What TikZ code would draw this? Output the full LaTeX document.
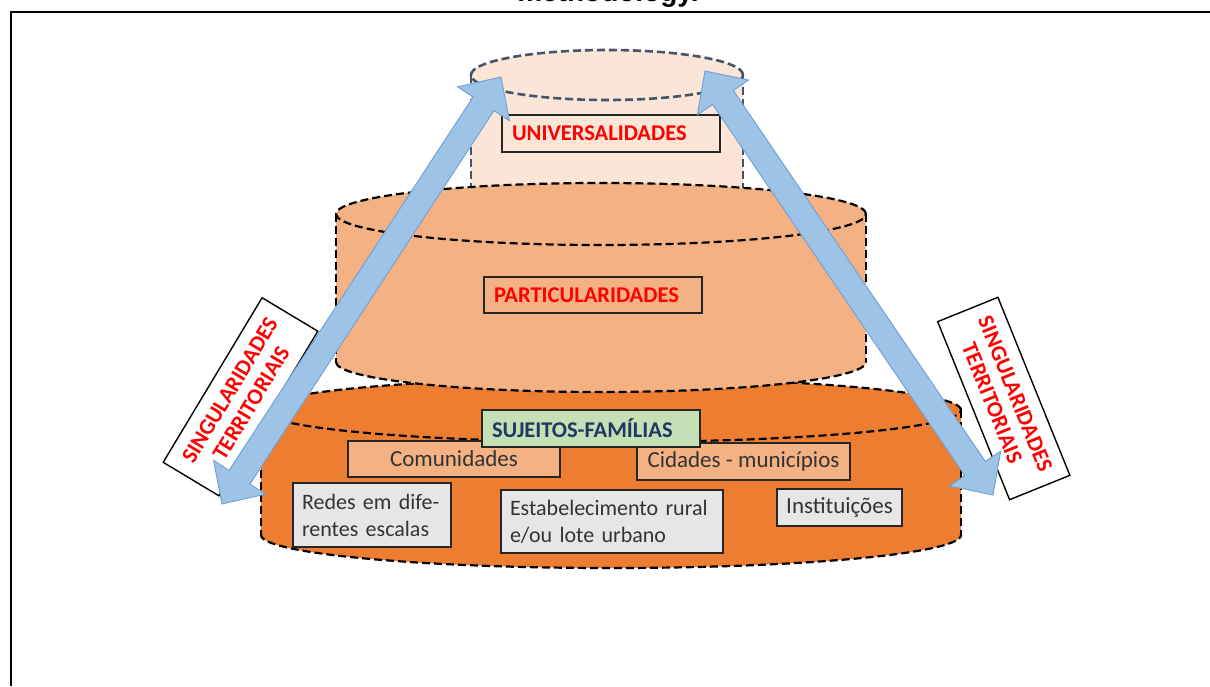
\documentclass[tikz,border=0pt]{standalone}
\usepackage{fontspec}
\setmainfont{Carlito}
\newfontfamily\titlefont{Liberation Sans}
\usetikzlibrary{calc}
\definecolor{topfill}{HTML}{FBE5D6}
\definecolor{midfill}{HTML}{F4B183}
\definecolor{botfill}{HTML}{ED7D31}
\definecolor{slate}{HTML}{44546A}
\definecolor{arrowfill}{HTML}{9DC3E6}
\definecolor{arrowline}{HTML}{6F9FD3}
\definecolor{greenfill}{HTML}{C5E0B4}
\definecolor{grayfill}{HTML}{E7E6E6}
\definecolor{navy}{HTML}{1F3864}
\definecolor{txtgray}{HTML}{333333}
\definecolor{red}{HTML}{FF0000}
\newcommand{\dblarrow}[2]{%
  \coordinate (#1h) at ($(#1)!32pt!(#2)$);
  \coordinate (#2h) at ($(#2)!32pt!(#1)$);
  \filldraw[arrowst] (#1) -- ($(#1h)!31pt!90:(#2)$) -- ($(#1h)!12.5pt!90:(#2)$)
    -- ($(#2h)!12.5pt!-90:(#1)$) -- ($(#2h)!31pt!-90:(#1)$) -- (#2)
    -- ($(#2h)!31pt!90:(#1)$) -- ($(#2h)!12.5pt!90:(#1)$)
    -- ($(#1h)!12.5pt!-90:(#2)$) -- ($(#1h)!31pt!-90:(#2)$) -- cycle;}
\begin{document}
\begin{tikzpicture}[x=1pt,y=-1pt,
  dashln/.style={line width=2.2pt, dash pattern=on 8pt off 4pt},
  blackdash/.style={dashln, draw=black},
  slatedash/.style={dashln, draw=slate, line width=2.6pt},
  arrowst/.style={fill=arrowfill, draw=arrowline, line width=0.9pt},
  lbox/.style={draw=black!85, line width=1.8pt, inner sep=0pt, minimum height=37pt},
  redlbl/.style={lbox, text=red, font=\bfseries\fontsize{22.5}{26}\selectfont, align=left},
  graylbl/.style={lbox, text=txtgray, font=\fontsize{23}{27}\selectfont},
  twolbl/.style={lbox, fill=grayfill, text=txtgray, font=\fontsize{22}{27}\selectfont, align=left, inner xsep=9pt},
  rotbox/.style={draw=black, line width=1.4pt, fill=white, minimum width=192pt,
    minimum height=65pt, inner sep=0pt, align=center, text=red,
    font=\bfseries\fontsize{22.5}{25}\selectfont}]
\useasboundingbox (0,0) rectangle (1210,686);
\clip (0,0) rectangle (1210,686);

% title (cut off at the top)
\node[anchor=base, inner sep=0pt, font=\titlefont\bfseries\fontsize{28}{30}\selectfont] (title) at (608,1) {methodology.};

% frame
\draw[line width=2.5pt] (1210,12) -- (11,12) -- (11,686);

% bottom cylinder
\fill[botfill] (261,410) rectangle (961,535);
\fill[botfill] (611,410) ellipse [x radius=350pt, y radius=32pt];
\fill[botfill] (611,535) ellipse [x radius=350pt, y radius=33pt];
\draw[blackdash] (611,410) ellipse [x radius=350pt, y radius=32pt];
\draw[blackdash] (261,410) -- (261,535);
\draw[blackdash] (961,410) -- (961,535);
\begin{scope}
  \clip (240,535) rectangle (980,590);
  \draw[blackdash] (611,535) ellipse [x radius=350pt, y radius=33pt];
\end{scope}

% top cylinder
\fill[topfill] (471,75) rectangle (743,190);
\fill[topfill] (607,190) ellipse [x radius=136pt, y radius=25pt];
\fill[topfill] (607,75) ellipse [x radius=136pt, y radius=25pt];
\draw[slatedash] (607,75) ellipse [x radius=136pt, y radius=25pt];
\draw[slatedash] (471,75) -- (471,195);
\draw[slatedash] (743,75) -- (743,195);

% middle cylinder
\fill[midfill] (336,214) rectangle (866,362);
\fill[midfill] (601,214) ellipse [x radius=265pt, y radius=31pt];
\fill[midfill] (601,362) ellipse [x radius=265pt, y radius=30pt];
\draw[blackdash] (601,214) ellipse [x radius=265pt, y radius=31pt];
\draw[blackdash] (336,214) -- (336,362);
\draw[blackdash] (866,214) -- (866,362);
\begin{scope}
  \clip (320,362) rectangle (880,400);
  \draw[blackdash] (601,362) ellipse [x radius=265pt, y radius=30pt];
\end{scope}

% labels
\node[redlbl, fill=topfill, text width=198pt, inner xsep=10pt] (univ) at (611,133.5) {UNIVERSALIDADES};
\node[redlbl, fill=midfill, text width=198pt, inner xsep=10pt, minimum height=36pt] (part) at (593,295) {PARTICULARIDADES};

\node[graylbl, fill=midfill, minimum width=212pt, minimum height=36pt] (com) at (454,459) {Comunidades};
\node[graylbl, fill=midfill, minimum width=213pt] (cid) at (743.5,461.5) {Cidades - municípios};
\node[lbox, fill=greenfill, text=navy, font=\bfseries\fontsize{22.5}{26}\selectfont, align=left, text width=198pt, inner xsep=10pt] (suj) at (591,428.5) {SUJEITOS-FAMÍLIAS};
\node[twolbl, text width=140pt, minimum height=64pt] (redes) at (372,515) {\mbox{Redes em dife-}\\\mbox{rentes escalas}};
\node[twolbl, text width=204pt, minimum height=63pt] (estab) at (612,521.5) {\mbox{Estabelecimento rural}\\\mbox{e/ou lote urbano}};
\node[graylbl, fill=grayfill, minimum width=125pt] (inst) at (839.5,507.5) {Instituições};

% rotated side boxes
\node[rotbox, rotate=59] (lsing) at (240.5,396.75) {SINGULARIDADES\\TERRITORIAIS};
\node[rotbox, rotate=-68] (rsing) at (1003.75,398.5) {SINGULARIDADES\\TERRITORIAIS};

% double block arrows
\coordinate (LA) at (501,77);
\coordinate (LB) at (222,504);
\coordinate (RA) at (705,71);
\coordinate (RB) at (993,495);
\dblarrow{LA}{LB}
\dblarrow{RA}{RB}
\end{tikzpicture}
\end{document}
